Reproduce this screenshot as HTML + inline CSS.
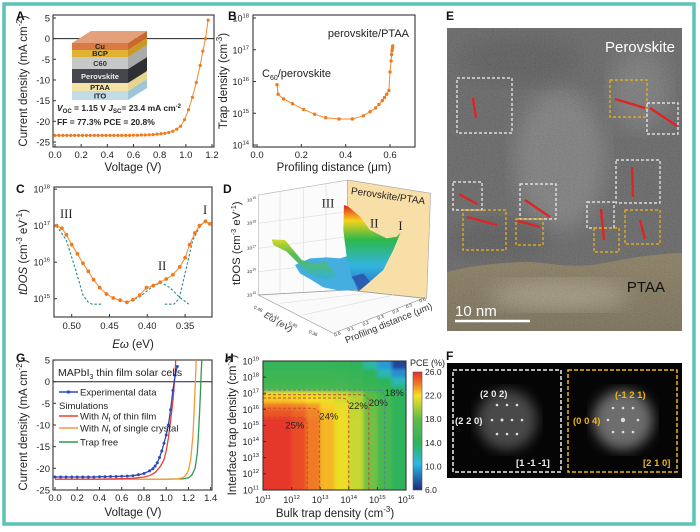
<!DOCTYPE html>
<html><head><meta charset="utf-8"><title>Trap density figure</title>
<style>
html,body{margin:0;padding:0;background:#fff;}
svg{display:block;font-family:"Liberation Sans",Arial,sans-serif;}
.tk{font-size:9.5px;fill:#222;}
.ttl{font-size:11.5px;fill:#222;}
.let{font-size:12px;font-weight:bold;fill:#111;}
</style></head>
<body>
<svg id="fig" width="700" height="532" viewBox="0 0 700 532" xmlns="http://www.w3.org/2000/svg">
<defs>
  <filter id="tem" x="0" y="0" width="100%" height="100%">
    <feTurbulence type="fractalNoise" baseFrequency="0.9" numOctaves="2" seed="3" result="n"/>
    <feColorMatrix type="matrix" values="0.33 0.33 0.33 0 0  0.33 0.33 0.33 0 0  0.33 0.33 0.33 0 0  0 0 0 0 1" in="n" result="g"/>
    <feComposite in="g" in2="SourceGraphic" operator="atop"/>
  </filter>
  <filter id="blob"><feGaussianBlur stdDeviation="10"/></filter>
  <filter id="soft"><feGaussianBlur stdDeviation="1.6"/></filter>
  <filter id="glow"><feGaussianBlur stdDeviation="6"/></filter>
  <linearGradient id="surf" x1="0" y1="0" x2="0" y2="1">
    <stop offset="0" stop-color="#e0201e"/><stop offset="0.18" stop-color="#f5d21c"/>
    <stop offset="0.4" stop-color="#2db84a"/><stop offset="0.7" stop-color="#33b4e0"/>
    <stop offset="1" stop-color="#2a6ac0"/>
  </linearGradient>
  <linearGradient id="lobe" x1="0" y1="0" x2="0" y2="1">
    <stop offset="0" stop-color="#d8d82a"/><stop offset="0.35" stop-color="#5cbf4a"/>
    <stop offset="1" stop-color="#35b0d8"/>
  </linearGradient>
  <linearGradient id="cbar" x1="0" y1="0" x2="0" y2="1">
    <stop offset="0" stop-color="#e42d2a"/><stop offset="0.1" stop-color="#f07a25"/>
    <stop offset="0.2" stop-color="#f8e026"/><stop offset="0.4" stop-color="#5fbc48"/>
    <stop offset="0.6" stop-color="#2fb35a"/><stop offset="0.78" stop-color="#2ab8e6"/>
    <stop offset="1" stop-color="#1a2a7e"/>
  </linearGradient>
  <linearGradient id="ptaa" x1="0" y1="0" x2="0" y2="1">
    <stop offset="0" stop-color="#7c6c48"/><stop offset="1" stop-color="#665a3c"/>
  </linearGradient>
  <clipPath id="hclip"><rect x="263" y="361" width="143" height="129"/></clipPath>
  <clipPath id="eclip"><rect x="447" y="28" width="235" height="303"/></clipPath>
</defs>

<rect x="4" y="4" width="690" height="520" fill="#fff" stroke="#5cc4b5" stroke-width="3.5"/>

<text class="let" x="16" y="20">A</text>
<text class="let" x="228" y="20">B</text>
<text class="let" x="16" y="193">C</text>
<text class="let" x="223" y="193">D</text>
<text class="let" x="446" y="20">E</text>
<text class="let" x="446" y="360">F</text>
<text class="let" x="16" y="362">G</text>
<text class="let" x="225" y="362">H</text>

<g id="pA"></g>
<g id="pB"></g>
<g id="pC"></g>
<g id="pG"></g>
<g id="pH"></g>

<g font-weight="bold" font-size="7.5" text-anchor="middle">
  <polygon points="128,91 147,79 147,88 128,100" fill="#9fc5d8"/>
  <polygon points="128,83 147,71 147,79 128,91" fill="#e8d48e"/>
  <polygon points="128,69 147,57 147,71 128,83" fill="#2e3036"/>
  <polygon points="128,57 147,45 147,57 128,69" fill="#a9aaaa"/>
  <polygon points="128,50 147,38 147,45 128,57" fill="#c99a22"/>
  <polygon points="128,43 147,31 147,38 128,50" fill="#c8672e"/>
  <polygon points="72,43 91,31 147,31 128,43" fill="#e4a07a"/>
  <rect x="72" y="43" width="56" height="7" fill="#d97a45"/><text x="100" y="49" fill="#222">Cu</text>
  <rect x="72" y="50" width="56" height="7" fill="#e0b233"/><text x="100" y="56" fill="#222">BCP</text>
  <rect x="72" y="57" width="56" height="12" fill="#c7c8c8"/><text x="100" y="66" fill="#333">C60</text>
  <rect x="72" y="69" width="56" height="14" fill="#45474d"/><text x="100" y="79" fill="#eee">Perovskite</text>
  <rect x="72" y="83" width="56" height="8" fill="#f4e3a6"/><text x="100" y="90" fill="#222">PTAA</text>
  <rect x="72" y="91" width="56" height="9" fill="#c4dbe8"/><text x="100" y="98.5" fill="#222">ITO</text>
</g>
<g font-size="8.5" font-weight="bold" fill="#222">
  <text x="57" y="111"><tspan font-style="italic">V</tspan><tspan font-size="6" dy="2">OC</tspan><tspan dy="-2"> = 1.15 V   </tspan><tspan font-style="italic">J</tspan><tspan font-size="6" dy="2">SC</tspan><tspan dy="-2">= 23.4 mA cm</tspan><tspan font-size="6" dy="-3">-2</tspan></text>
  <text x="57" y="125">FF  = 77.3%    PCE = 20.8%</text>
</g>

<!-- Panel D -->
<g transform="translate(220,180) scale(0.3333)">
  <polygon points="115,45 383,0 383,330 115,345" fill="#fbfbfb" stroke="#bbb" stroke-width="2"/>
  <g stroke="#ddd" stroke-width="2">
    <line x1="115" y1="130" x2="383" y2="95"/><line x1="115" y1="205" x2="383" y2="170"/><line x1="115" y1="275" x2="383" y2="245"/>
    <line x1="180" y1="35" x2="180" y2="340"/><line x1="250" y1="23" x2="250" y2="337"/><line x1="318" y1="11" x2="318" y2="333"/>
  </g>
  <polygon points="383,0 632,40 620,355 383,330" fill="#f8dfa8" stroke="#aaa" stroke-width="2"/>
  <polygon points="115,345 383,330 610,355 340,460" fill="#fafafa" stroke="#999" stroke-width="2"/>
  <g stroke="#ddd" stroke-width="2"><line x1="180" y1="370" x2="440" y2="340"/><line x1="250" y1="405" x2="520" y2="345"/></g>
  <polygon points="225,255 270,235 320,232 360,235 382,228 395,270 420,330 360,332 310,322 275,300 240,280" fill="#44aee0"/>
  <polygon points="155,178 195,180 220,210 245,240 285,252 315,245 340,270 350,290 320,300 290,292 265,280 235,250 200,215 160,195" fill="url(#lobe)"/>
  <polygon points="372,75 385,80 420,110 450,150 500,175 530,170 542,158 520,210 490,270 450,305 415,335 395,290 380,230 370,150" fill="url(#surf)"/>
  <polygon points="395,290 420,330 450,305 430,280" fill="#2a5cb0"/>
  <g font-family="Liberation Serif,serif" font-size="38" fill="#222">
    <text x="305" y="82">III</text><text x="450" y="142">II</text><text x="535" y="150">I</text>
  </g>
  <text x="392" y="42" font-size="30" fill="#222" transform="rotate(8 392 42)">Perovskite/PTAA</text>
  <g font-size="15" fill="#333" text-anchor="end">
    <text x="108" y="64">10<tspan font-size="10" dy="-7">19</tspan></text>
    <text x="108" y="134">10<tspan font-size="10" dy="-7">18</tspan></text>
    <text x="108" y="209">10<tspan font-size="10" dy="-7">17</tspan></text>
    <text x="108" y="279">10<tspan font-size="10" dy="-7">16</tspan></text>
    <text x="108" y="349">10<tspan font-size="10" dy="-7">15</tspan></text>
  </g>
  <text x="0" y="0" font-size="34" fill="#222" transform="translate(60,315) rotate(-90)">tDOS (cm<tspan font-size="22" dy="-12">-3</tspan><tspan dy="12"> eV</tspan><tspan font-size="22" dy="-12">-1</tspan><tspan dy="12">)</tspan></text>
  <g font-size="14" fill="#333">
    <text x="100" y="385" transform="rotate(25 100 385)">0.48</text><text x="150" y="408" transform="rotate(25 150 408)">0.44</text>
    <text x="205" y="432" transform="rotate(25 205 432)">0.40</text><text x="265" y="458" transform="rotate(25 265 458)">0.36</text>
  </g>
  <text x="130" y="410" font-size="26" fill="#333" font-style="italic" transform="rotate(30 130 410)">Eω (eV)</text>
  <g font-size="14" fill="#333">
    <text x="345" y="470" transform="rotate(-22 345 470)">0.0</text><text x="385" y="455" transform="rotate(-22 385 455)">0.1</text>
    <text x="430" y="438" transform="rotate(-22 430 438)">0.2</text><text x="475" y="420" transform="rotate(-22 475 420)">0.3</text>
    <text x="520" y="402" transform="rotate(-22 520 402)">0.4</text><text x="560" y="385" transform="rotate(-22 560 385)">0.5</text>
    <text x="600" y="368" transform="rotate(-22 600 368)">0.6</text>
  </g>
  <text x="380" y="490" font-size="28" fill="#333" transform="rotate(-22 380 490)">Profiling distance (μm)</text>
</g>

<!-- Panel E -->
<g clip-path="url(#eclip)">
  <rect x="447" y="28" width="235" height="303" fill="#4e4e4e"/>
  <ellipse cx="560" cy="160" rx="45" ry="70" fill="#7a7a7a" filter="url(#blob)" opacity="0.7"/>
  <ellipse cx="640" cy="90" rx="30" ry="40" fill="#787878" filter="url(#blob)" opacity="0.6"/>
  <ellipse cx="500" cy="240" rx="50" ry="20" fill="#3a3a3a" filter="url(#blob)" opacity="0.7"/>
  <ellipse cx="520" cy="60" rx="60" ry="25" fill="#3c3c3c" filter="url(#blob)" opacity="0.7"/>
  <path d="M447,272 C470,266 500,262 530,262 C555,263 570,270 610,262 C640,256 660,254 682,253 L682,331 L447,331 Z" fill="url(#ptaa)"/>
  <ellipse cx="560" cy="295" rx="70" ry="15" fill="#b8ad90" filter="url(#blob)" opacity="0.6"/>
  <rect x="447" y="28" width="235" height="303" fill="#777" filter="url(#tem)" opacity="0.3"/>
  <text x="675" y="52" font-size="15" fill="#fff" text-anchor="end">Perovskite</text>
  <text x="665" y="292" font-size="15" fill="#111" text-anchor="end">PTAA</text>
  <line x1="455" y1="321" x2="530" y2="321" stroke="#fff" stroke-width="2.5"/>
  <text x="455" y="316" font-size="15" fill="#fff">10 nm</text>
  <g id="eboxes"></g>
</g>

<!-- Panel F -->
<g>
  <rect x="447" y="363" width="235" height="115" fill="#050505"/>
  <circle cx="507" cy="420" r="30" fill="#777" filter="url(#glow)" opacity="0.6"/>
  <circle cx="623" cy="420" r="30" fill="#999" filter="url(#glow)" opacity="0.7"/>
  <g fill="#ddd">
    <circle cx="497" cy="405" r="1.3"/><circle cx="507" cy="405" r="1.3"/><circle cx="517" cy="405" r="1.3"/>
    <circle cx="492" cy="420" r="1.3"/><circle cx="502" cy="420" r="1.5"/><circle cx="512" cy="420" r="1.3"/><circle cx="522" cy="420" r="1.3"/>
    <circle cx="497" cy="434" r="1.3"/><circle cx="507" cy="434" r="1.3"/><circle cx="517" cy="434" r="1.3"/>
    <circle cx="613" cy="408" r="1.3"/><circle cx="623" cy="408" r="1.3"/><circle cx="633" cy="408" r="1.3"/>
    <circle cx="608" cy="420" r="1.3"/><circle cx="623" cy="420" r="2.2"/><circle cx="638" cy="420" r="1.3"/>
    <circle cx="613" cy="432" r="1.3"/><circle cx="623" cy="432" r="1.3"/><circle cx="633" cy="432" r="1.3"/>
  </g>
  <rect x="453" y="370" width="108" height="102" fill="none" stroke="#eee" stroke-width="1.5" stroke-dasharray="4,2"/>
  <rect x="568" y="370" width="109" height="102" fill="none" stroke="#f0b419" stroke-width="1.5" stroke-dasharray="4,2"/>
  <g font-size="9.5" font-weight="bold" fill="#eee">
    <text x="480" y="397">(2 0 2)</text><text x="455" y="424">(2 2 0)</text><text x="516" y="466">[1 -1 -1]</text>
  </g>
  <g font-size="9.5" font-weight="bold" fill="#f0b419">
    <text x="615" y="398">(-1 2 1)</text><text x="573" y="424">(0 0 4)</text><text x="643" y="466">[2 1 0]</text>
  </g>
</g>

<script>
const NS = 'http://www.w3.org/2000/svg';
function mk(tag, attrs, parent) {
  const e = document.createElementNS(NS, tag);
  for (const k in attrs) e.setAttribute(k, attrs[k]);
  parent.appendChild(e);
  return e;
}
function sup(parent, x, y, base, exp, anchor, size) {
  const t = mk('text', {x: x, y: y, 'text-anchor': anchor || 'middle', 'font-size': size || 9}, parent);
  t.setAttribute('fill', '#222');
  t.appendChild(document.createTextNode(base));
  const s = mk('tspan', {'font-size': (size || 9) * 0.65, dy: -4}, t);
  s.textContent = exp;
  return t;
}

/* Panel A data */
const aVoltage = [0,0.03,0.06,0.09,0.12,0.15,0.18,0.21,0.24,0.27,0.30,0.33,0.36,0.39,0.42,0.45,0.48,0.51,0.54,0.57,0.60,0.63,0.66,0.69,0.72,0.75,0.78,0.81,0.84,0.87,0.90,0.93,0.96,0.99,1.02,1.05,1.08,1.11,1.13,1.15,1.17];
const aCurrent = [-23.4,-23.4,-23.4,-23.4,-23.4,-23.4,-23.4,-23.4,-23.4,-23.4,-23.4,-23.4,-23.4,-23.4,-23.4,-23.4,-23.4,-23.4,-23.4,-23.4,-23.35,-23.35,-23.3,-23.3,-23.25,-23.2,-23.1,-23.0,-22.9,-22.7,-22.4,-21.9,-21.2,-19.6,-17.2,-14.2,-10.6,-6.5,-3.0,0,4.5];
const aXTicks = [0,0.2,0.4,0.6,0.8,1.0,1.2];
const aYTicks = [5,0,-5,-10,-15,-20,-25];

/* Panel B data */
const bDistance = [0.09,0.095,0.12,0.16,0.21,0.26,0.31,0.37,0.43,0.48,0.51,0.535,0.55,0.565,0.575,0.585,0.595,0.60,0.605,0.607,0.609,0.611,0.612];
const bTrapLog = [15.9,15.6,15.45,15.3,15.12,14.97,14.86,14.82,14.82,14.92,15.05,15.17,15.28,15.4,15.5,15.6,15.72,16.3,16.65,16.85,16.97,17.05,17.12];
const bXTicks = [0.0,0.2,0.4,0.6];
const bYTicks = [14,15,16,17,18];

/* Panel C data */
const cEnergy = [0.52,0.513,0.507,0.50,0.4925,0.485,0.478,0.471,0.463,0.454,0.445,0.436,0.427,0.419,0.41,0.401,0.392,0.383,0.375,0.366,0.357,0.35,0.344,0.337,0.331,0.323,0.317];
const cTdosLog = [17.0,16.93,16.75,16.48,16.23,15.97,15.75,15.52,15.3,15.13,15.02,14.96,14.9,14.97,15.1,15.3,15.36,15.45,15.54,15.66,15.87,16.12,16.48,16.8,17.0,17.12,17.05];
const cFitIIIe = [0.52,0.507,0.495,0.485,0.478,0.473,0.46];
const cFitIIIl = [17.0,16.6,15.8,15.1,14.9,14.85,14.85];
const cFitIIe = [0.427,0.41,0.395,0.382,0.37,0.358,0.345];
const cFitIIl = [14.9,15.05,15.3,15.45,15.3,15.05,14.85];
const cFitIe = [0.377,0.365,0.358,0.35,0.34,0.33,0.323,0.317];
const cFitIl = [14.85,14.85,15.0,15.7,16.6,17.0,17.12,17.0];
const cXTicks = [0.50,0.45,0.40,0.35];
const cYTicks = [15,16,17,18];

/* Panel G data */
const gExpV = [0,0.05,0.1,0.15,0.2,0.25,0.3,0.35,0.4,0.45,0.5,0.55,0.6,0.65,0.7,0.75,0.8,0.85,0.88,0.9,0.92,0.94,0.96,0.98,1.0,1.02,1.04,1.06,1.08,1.10];
const gExpJ = [-22,-22,-22,-22,-22,-22,-22,-22,-21.95,-21.95,-21.9,-21.9,-21.85,-21.8,-21.7,-21.5,-21.2,-20.6,-20.1,-19.5,-18.7,-17.5,-16,-14.2,-12.3,-10,-6.5,-2,1.5,3.5];
const gThinV = [0,0.2,0.4,0.6,0.7,0.8,0.85,0.9,0.95,0.98,1.0,1.02,1.04,1.06,1.07,1.08,1.085];
const gThinJ = [-22.5,-22.5,-22.5,-22.4,-22.3,-22,-21.7,-21,-19.5,-18,-16,-13,-9,-4.5,-1.5,2,5];
const gSingleV = [0,0.4,0.8,1.0,1.1,1.15,1.18,1.2,1.22,1.24,1.25,1.26,1.265,1.27];
const gSingleJ = [-22.5,-22.5,-22.5,-22.5,-22.45,-22.2,-21.5,-20.5,-18,-12.5,-7.5,-1.5,2,5];
const gFreeV = [0,0.4,0.8,1.0,1.15,1.2,1.23,1.26,1.28,1.29,1.30,1.31,1.315,1.32];
const gFreeJ = [-22.5,-22.5,-22.5,-22.5,-22.45,-22.2,-21.6,-20,-16.5,-12.5,-7,-1,2,5];
const gXTicks = [0,0.2,0.4,0.6,0.8,1.0,1.2,1.4];
const gYTicks = [5,0,-5,-10,-15,-20,-25];

/* Panel H data */
const hBulkLog = [11.25,11.75,12.25,12.75,13.25,13.75,14.25,14.75,15.25,15.75];
const hRowTop = [19,18.5,18,17.5,17.1,16.8,16.4,16,15.5];
const hRowBottom = [18.5,18,17.5,17.1,16.8,16.4,16,15.5,11];
const hPCE = [
  [14.5,14.5,14.5,14.5,14.5,14.3,14,12.5,10,7],
  [15,15,15,15,15,14.8,14.5,14,12,9.5],
  [15.5,15.5,15.5,15.5,15.5,15.3,15,14.6,14,12],
  [16,16,16,16,16,15.8,15.5,15,14.5,13.5],
  [21.5,21.5,21.5,21.3,21,20.5,19.5,17.5,15.5,14],
  [22.5,22.5,22.3,22,21.5,20.8,19.8,18,15.8,14],
  [24,24,23.8,23.3,22.3,21.3,20,18.2,16,14],
  [25,25,24.6,23.8,22.6,21.5,20.2,18.3,16,14],
  [25.7,25.7,25.2,24,22.8,21.6,20.3,18.4,16,14]
];
const hContourLabels = ['25%','24%','22%','20%','18%'];
const hContourBulk = [12.55,12.97,14.0,14.7,15.26];
const hContourIface = [15.5,16.06,16.7,16.9,17.2];
const hXTicks = [11,12,13,14,15,16];
const hYTicks = [11,12,13,14,15,16,17,18,19];
const hBarTicks = [26,22,18,14,10,6];

function frame(g, x0, y0, x1, y1, name) {
  const r = mk('rect', {x: x0, y: y0, width: x1 - x0, height: y1 - y0, fill: 'none', stroke: '#333', 'stroke-width': 1.1}, g);
  
  
}
function lineFrom(g, xs, ys, fx, fy, attrs, name) {
  let d = '';
  for (let i = 0; i < xs.length; i++) d += (i ? 'L' : 'M') + fx(xs[i]).toFixed(1) + ',' + fy(ys[i]).toFixed(1);
  const p = mk('path', Object.assign({d: d, fill: 'none'}, attrs), g);
  
  
  return p;
}
function dots(g, xs, ys, fx, fy, r, color, name) {
  for (let i = 0; i < xs.length; i++) {
    const c = mk('circle', {cx: fx(xs[i]).toFixed(1), cy: fy(ys[i]).toFixed(1), r: r, fill: color}, g);
    
    
  }
}
function rotTitle(g, x, y, parts, name) {
  const t = mk('text', {transform: 'translate(' + x + ',' + y + ') rotate(-90)', 'text-anchor': 'middle', class: 'ttl'}, g);
  
  
  parts.forEach(function (p) {
    const s = mk('tspan', {}, t);
    if (p.sup) { s.setAttribute('font-size', '8'); s.setAttribute('dy', '-5'); }
    if (p.down) { s.setAttribute('dy', '5'); }
    if (p.it) s.setAttribute('font-style', 'italic');
    s.textContent = p.t;
  });
  return t;
}

/* Panel A */
(function () {
  const g = document.getElementById('pA');
  const x = v => 55 + v * (157 / 1.2);
  const y = j => 18 + (5 - j) * 4.133;
  frame(g, 53, 15, 214, 147, 'panel-a-plot-frame');
  const z = mk('line', {x1: 53, x2: 214, y1: y(0), y2: y(0), stroke: '#222', 'stroke-width': 1}, g);
  
  
  aXTicks.forEach(function (v) {
    mk('line', {x1: x(v), x2: x(v), y1: 147, y2: 144, stroke: '#333'}, g);
    const t = mk('text', {x: x(v), y: 158, 'text-anchor': 'middle', class: 'tk'}, g);
    
    
    t.textContent = v.toFixed(1);
  });
  aYTicks.forEach(function (j) {
    mk('line', {x1: 53, x2: 56, y1: y(j), y2: y(j), stroke: '#333'}, g);
    const t = mk('text', {x: 50, y: y(j) + 3.5, 'text-anchor': 'end', class: 'tk'}, g);
    
    
    t.textContent = j;
  });
  lineFrom(g, aVoltage, aCurrent, x, y, {stroke: '#f08a2c', 'stroke-width': 1}, 'jv-curve');
  dots(g, aVoltage, aCurrent, x, y, 1.6, '#f07a1c', 'jv-point');
  const xt = mk('text', {x: 133, y: 171, 'text-anchor': 'middle', class: 'ttl'}, g);
  
  
  xt.textContent = 'Voltage (V)';
  rotTitle(g, 27, 81, [{t: 'Current density (mA cm'}, {t: '-2', sup: 1}, {t: ')', down: 1}], 'y-axis-title');
})();

/* Panel B */
(function () {
  const g = document.getElementById('pB');
  const x = d => 257 + d * 221.7;
  const y = l => 145 - (l - 14) * 31.75;
  frame(g, 253, 15, 415, 147, 'panel-b-plot-frame');
  bXTicks.forEach(function (v) {
    mk('line', {x1: x(v), x2: x(v), y1: 147, y2: 144, stroke: '#333'}, g);
    const t = mk('text', {x: x(v), y: 158, 'text-anchor': 'middle', class: 'tk'}, g);
    
    
    t.textContent = v.toFixed(1);
  });
  bYTicks.forEach(function (l) {
    mk('line', {x1: 253, x2: 256, y1: y(l), y2: y(l), stroke: '#333'}, g);
    const t = sup(g, 249, y(l) + 3.5, '10', String(l), 'end', 9);
    
    
  });
  lineFrom(g, bDistance, bTrapLog, x, y, {stroke: '#f08a2c', 'stroke-width': 1}, 'trap-profile-line');
  dots(g, bDistance, bTrapLog, x, y, 1.7, '#f07a1c', 'trap-point');
  const xt = mk('text', {x: 334, y: 171, 'text-anchor': 'middle', class: 'ttl'}, g);
  
  
  xt.textContent = 'Profiling distance (μm)';
  rotTitle(g, 227, 81, [{t: 'Trap density (cm'}, {t: '-3', sup: 1}, {t: ')', down: 1}], 'y-axis-title');
  const a1 = mk('text', {x: 409, y: 37, 'text-anchor': 'end', 'font-size': 11, fill: '#222'}, g);
  
  
  a1.textContent = 'perovskite/PTAA';
  const a2 = mk('text', {x: 262, y: 77, 'font-size': 11, fill: '#222'}, g);
  
  
  a2.appendChild(document.createTextNode('C'));
  const s = mk('tspan', {'font-size': 7, dy: 3}, a2); s.textContent = '60';
  const s2 = mk('tspan', {dy: -3}, a2); s2.textContent = '/perovskite';
})();

/* Panel C */
(function () {
  const g = document.getElementById('pC');
  const x = e => 71.7 + (0.50 - e) * 756;
  const y = l => 225.7 - (l - 17) * 36.5;
  frame(g, 54, 187, 212, 317, 'panel-c-plot-frame');
  cXTicks.forEach(function (v) {
    mk('line', {x1: x(v), x2: x(v), y1: 317, y2: 314, stroke: '#333'}, g);
    const t = mk('text', {x: x(v), y: 329, 'text-anchor': 'middle', class: 'tk'}, g);
    
    
    t.textContent = v.toFixed(2);
  });
  cYTicks.forEach(function (l) {
    mk('line', {x1: 54, x2: 57, y1: y(l), y2: y(l), stroke: '#333'}, g);
    const t = sup(g, 50, y(l) + 3.5, '10', String(l), 'end', 9);
    
    
  });
  const dashA = {stroke: '#2a8a8a', 'stroke-width': 1.1, 'stroke-dasharray': '2.5,1.8'};
  lineFrom(g, cFitIIIe, cFitIIIl, x, y, dashA, 'gaussian-fit-iii');
  lineFrom(g, cFitIIe, cFitIIl, x, y, dashA, 'gaussian-fit-ii');
  lineFrom(g, cFitIe, cFitIl, x, y, dashA, 'gaussian-fit-i');
  lineFrom(g, cEnergy, cTdosLog, x, y, {stroke: '#f08a2c', 'stroke-width': 1}, 'tdos-line');
  dots(g, cEnergy, cTdosLog, x, y, 1.9, '#f07a1c', 'tdos-point');
  [['III', 60, 218], ['II', 158, 270], ['I', 203, 214]].forEach(function (r) {
    const t = mk('text', {x: r[1], y: r[2], 'font-family': 'Liberation Serif,serif', 'font-size': 12.5, fill: '#222'}, g);
    
    
    t.textContent = r[0];
  });
  const xt = mk('text', {x: 133, y: 348, 'text-anchor': 'middle', class: 'ttl'}, g);
  
  
  const it = mk('tspan', {'font-style': 'italic'}, xt); it.textContent = 'Eω';
  const rest = mk('tspan', {}, xt); rest.textContent = ' (eV)';
  rotTitle(g, 27, 252, [{t: 't', it: 1}, {t: 'DOS', it: 1}, {t: ' (cm'}, {t: '-3', sup: 1}, {t: ' eV', down: 1}, {t: '-1', sup: 1}, {t: ')', down: 1}], 'y-axis-title');
})();

/* Panel G */
(function () {
  const g = document.getElementById('pG');
  const x = v => 55 + v * 111.2;
  const y = j => 381.7 - j * 4.33;
  frame(g, 53, 360, 212, 490, 'panel-g-plot-frame');
  const z = mk('line', {x1: 53, x2: 212, y1: y(0), y2: y(0), stroke: '#222', 'stroke-width': 1}, g);
  
  
  gXTicks.forEach(function (v) {
    mk('line', {x1: x(v), x2: x(v), y1: 490, y2: 487, stroke: '#333'}, g);
    const t = mk('text', {x: x(v), y: 501, 'text-anchor': 'middle', class: 'tk'}, g);
    
    
    t.textContent = v.toFixed(1);
  });
  gYTicks.forEach(function (j) {
    mk('line', {x1: 53, x2: 56, y1: y(j), y2: y(j), stroke: '#333'}, g);
    const t = mk('text', {x: 50, y: y(j) + 3.5, 'text-anchor': 'end', class: 'tk'}, g);
    
    
    t.textContent = j;
  });
  lineFrom(g, gFreeV, gFreeJ, x, y, {stroke: '#2e9a4e', 'stroke-width': 1.3}, 'trap-free-curve');
  lineFrom(g, gSingleV, gSingleJ, x, y, {stroke: '#f39a3a', 'stroke-width': 1.3}, 'single-crystal-curve');
  lineFrom(g, gThinV, gThinJ, x, y, {stroke: '#e8403a', 'stroke-width': 1.3}, 'thin-film-curve');
  lineFrom(g, gExpV, gExpJ, x, y, {stroke: '#2a4ab8', 'stroke-width': 1.3}, 'experimental-curve');
  dots(g, gExpV, gExpJ, x, y, 1.5, '#2a4ab8', 'experimental-point');
  const t0 = mk('text', {x: 58, y: 376, 'font-size': 10.5, fill: '#222'}, g);
  
  
  t0.appendChild(document.createTextNode('MAPbI'));
  const ts = mk('tspan', {'font-size': 7, dy: 3}, t0); ts.textContent = '3';
  const ts2 = mk('tspan', {dy: -3}, t0); ts2.textContent = ' thin film solar cells';
  const leg = [
    {y: 392, c: '#2a4ab8', label: 'Experimental data', dot: true},
    {y: 416, c: '#e8403a', label: 'With N', sub: 't', rest: ' of thin film'},
    {y: 428, c: '#f39a3a', label: 'With N', sub: 't', rest: ' of single crystal'},
    {y: 442, c: '#2e9a4e', label: 'Trap free'}
  ];
  const sim = mk('text', {x: 59, y: 409, 'font-size': 9.5, fill: '#222'}, g);
  
  
  sim.textContent = 'Simulations';
  leg.forEach(function (L) {
    const ln = mk('line', {x1: 59, x2: 78, y1: L.y, y2: L.y, stroke: L.c, 'stroke-width': 1.4}, g);
    
    
    if (L.dot) mk('circle', {cx: 68.5, cy: L.y, r: 1.6, fill: L.c}, g);
    const t = mk('text', {x: 80, y: L.y + 3.5, 'font-size': 9.5, fill: '#222'}, g);
    
    
    if (L.sub) {
      t.appendChild(document.createTextNode('With '));
      const n = mk('tspan', {'font-style': 'italic'}, t); n.textContent = 'N';
      const s = mk('tspan', {'font-size': 6.5, dy: 2}, t); s.textContent = L.sub;
      const r = mk('tspan', {dy: -2}, t); r.textContent = L.rest;
    } else t.textContent = L.label;
  });
  const xt = mk('text', {x: 133, y: 516, 'text-anchor': 'middle', class: 'ttl'}, g);
  
  
  xt.textContent = 'Voltage (V)';
  rotTitle(g, 27, 425, [{t: 'Current density (mA cm'}, {t: '-2', sup: 1}, {t: ')', down: 1}], 'y-axis-title');
})();

/* Panel H */
(function () {
  const g = document.getElementById('pH');
  const x = l => 263 + (l - 11) * 28.6;
  const y = l => 361 + (19 - l) * 16.1;
  const stops = [[26, [228, 45, 42]], [24, [240, 122, 37]], [22, [248, 224, 38]], [20, [190, 214, 50]], [18, [95, 188, 72]], [14, [47, 179, 90]], [11, [42, 184, 230]], [8, [42, 95, 184]], [6, [26, 42, 126]]];
  function col(v) {
    for (let i = 0; i < stops.length - 1; i++) {
      const a = stops[i], b = stops[i + 1];
      if (v <= a[0] && v >= b[0]) {
        const t = (a[0] - v) / (a[0] - b[0]);
        return 'rgb(' + a[1].map((c, k) => Math.round(c + (b[1][k] - c) * t)).join(',') + ')';
      }
    }
    return v > 26 ? 'rgb(228,45,42)' : 'rgb(26,42,126)';
  }
  const hm = mk('g', {'clip-path': 'url(#hclip)'}, g);
  const inner = mk('g', {filter: 'url(#soft)'}, hm);
  const half = 0.25;
  for (let r = 0; r < hPCE.length; r++) {
    for (let c = 0; c < hBulkLog.length; c++) {
      const x0 = x(hBulkLog[c] - half) - (c === 0 ? 4 : 0);
      const x1 = x(hBulkLog[c] + half) + (c === hBulkLog.length - 1 ? 4 : 0);
      const y0 = y(hRowTop[r]) - (r === 0 ? 4 : 0);
      const y1 = y(hRowBottom[r]) + (r === hPCE.length - 1 ? 4 : 0);
      const cell = mk('rect', {x: x0.toFixed(1), y: y0.toFixed(1), width: (x1 - x0 + 0.6).toFixed(1), height: (y1 - y0 + 0.6).toFixed(1), fill: col(hPCE[r][c])}, inner);
      
      
    }
  }
  hContourLabels.forEach(function (lab, i) {
    const xc = x(hContourBulk[i]), yc = y(hContourIface[i]);
    const isBlue = i === hContourLabels.length - 1;
    const p = mk('path', {d: 'M263,' + yc.toFixed(1) + ' L' + (xc - 8).toFixed(1) + ',' + yc.toFixed(1) + ' Q' + xc.toFixed(1) + ',' + yc.toFixed(1) + ' ' + xc.toFixed(1) + ',' + (yc + 8).toFixed(1) + ' L' + xc.toFixed(1) + ',490', fill: 'none', stroke: isBlue ? '#5a7aa8' : '#c84a30', 'stroke-width': 1, 'stroke-dasharray': '3,2'}, g);
    
    
    const t = mk('text', {x: (xc + (i === 0 ? -22 : 0)).toFixed(1), y: (yc + (isBlue ? 6 : 11)).toFixed(1), 'font-size': 9.5, fill: '#222'}, g);
    
    
    t.textContent = lab;
  });
  frame(g, 263, 361, 406, 490, 'panel-h-plot-frame');
  hXTicks.forEach(function (l) {
    mk('line', {x1: x(l), x2: x(l), y1: 490, y2: 487, stroke: '#333'}, g);
    const t = sup(g, x(l), 503, '10', String(l), 'middle', 9);
    
    
  });
  hYTicks.forEach(function (l) {
    mk('line', {x1: 263, x2: 266, y1: y(l), y2: y(l), stroke: '#333'}, g);
    const t = sup(g, 259, y(l) + 3.5, '10', String(l), 'end', 9);
    
    
  });
  const cb = mk('rect', {x: 413, y: 372, width: 9, height: 118, fill: 'url(#cbar)', stroke: '#555', 'stroke-width': 0.6}, g);
  
  
  hBarTicks.forEach(function (v) {
    const t = mk('text', {x: 425, y: 372 + (26 - v) / 20 * 118 + 3, 'font-size': 8.5, fill: '#222'}, g);
    
    
    t.textContent = v.toFixed(1);
  });
  const ct = mk('text', {x: 410, y: 366, 'font-size': 9, fill: '#222'}, g);
  
  
  ct.textContent = 'PCE (%)';
  const xt = mk('text', {x: 335, y: 517, 'text-anchor': 'middle', class: 'ttl'}, g);
  
  
  xt.appendChild(document.createTextNode('Bulk trap density (cm'));
  const s = mk('tspan', {'font-size': 8, dy: -5}, xt); s.textContent = '-3';
  const s2 = mk('tspan', {dy: 5}, xt); s2.textContent = ')';
  rotTitle(g, 236, 425, [{t: 'Interface trap density (cm'}, {t: '-3', sup: 1}, {t: ')', down: 1}], 'y-axis-title');
})();

/* Panel E boxes */
(function () {
  const g = document.getElementById('eboxes');
  const boxes = [
    [457,78,55,55,'w'],[610,80,37,37,'o'],[647,103,31,31,'w'],[616,160,44,43,'w'],
    [453,182,29,28,'w'],[463,210,43,40,'o'],[520,184,36,35,'w'],[516,219,27,26,'o'],
    [587,202,27,26,'w'],[594,228,25,24,'o'],[625,210,35,34,'o']
  ];
  boxes.forEach(function (b) {
    const r = mk('rect', {x: b[0], y: b[1], width: b[2], height: b[3], fill: 'none', stroke: b[4] === 'w' ? '#f2f2f2' : '#f0b419', 'stroke-width': 1.2, 'stroke-dasharray': '3,2'}, g);
    
    
  });
  const lines = [
    [473,98,476,118],[615,99,645,108],[650,108,677,126],[632,167,633,197],[459,194,477,204],
    [467,217,497,225],[525,200,550,217],[518,221,540,227],[601,209,604,240],[640,220,645,239]
  ];
  lines.forEach(function (l) {
    const p = mk('line', {x1: l[0], y1: l[1], x2: l[2], y2: l[3], stroke: '#e02424', 'stroke-width': 2.4}, g);
    
    
  });
})();
</script>
</body></html>
